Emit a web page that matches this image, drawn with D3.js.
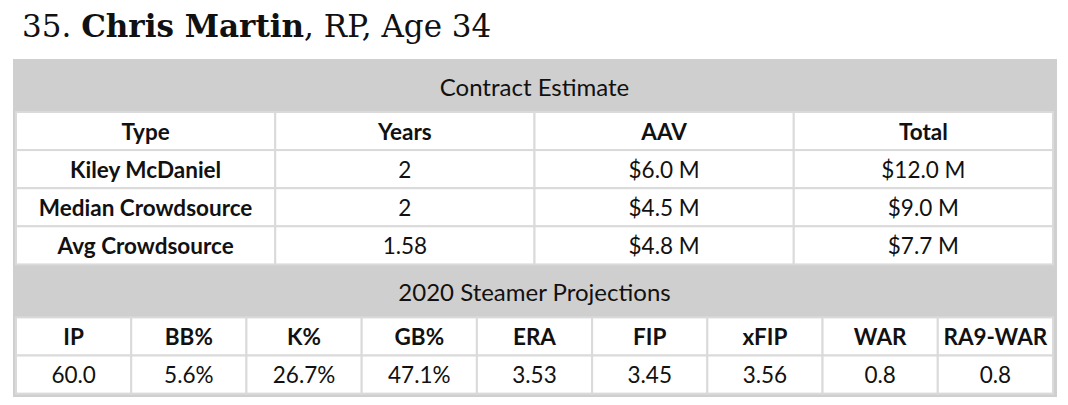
<!DOCTYPE html>
<html>
<head>
<meta charset="utf-8">
<script src="https://cdn.jsdelivr.net/npm/d3@7"></script>
<style>
  body { margin: 0; background: #fff; }
  svg text { font-family: Lato, "Open Sans", sans-serif; fill: #111; }
</style>
</head>
<body>
<div id="card"></div>
<script>
// table contents
const rank = 35;
const playerName = "Chris Martin";
const position = "RP";
const age = 34;

const contractTitle = "Contract Estimate";
const contractColumns = ["Type", "Years", "AAV", "Total"];
const contractTypes = ["Kiley McDaniel", "Median Crowdsource", "Avg Crowdsource"];
const contractYears = ["2", "2", "1.58"];
const contractAAV = [6.0, 4.5, 4.8];
const contractTotal = [12.0, 9.0, 7.7];

const steamerTitle = "2020 Steamer Projections";
const steamerStats = ["IP", "BB%", "K%", "GB%", "ERA", "FIP", "xFIP", "WAR", "RA9-WAR"];
const steamerValues = ["60.0", "5.6%", "26.7%", "47.1%", "3.53", "3.45", "3.56", "0.8", "0.8"];

const W = 1068, H = 405;
const box = {left: 13, right: 1057, top: 59, bottom: 397};
const inner = {left: 16, right: 1053};
const headH = 53;

const svg = d3.select("#card")
    .append("svg")
    .attr("width", W)
    .attr("height", H);

// title line
const title = svg.append("text")
    .attr("x", 22)
    .attr("y", 37)
    .style("font-family", "'DejaVu Serif', 'Liberation Serif', serif")
    .style("font-size", "29px")
    .style("fill", "#111");
title.append("tspan").text(`${rank}. `);
title.append("tspan").style("font-weight", "bold").text(playerName);
title.append("tspan").text(`, ${position}, Age ${age}`);

// size the title to the reference width (~470px), not past 31px
const tw = title.node().getComputedTextLength();
const fs = Math.min(31, 29 * 470 / tw);
title.style("font-size", fs + "px");
const tw2 = title.node().getComputedTextLength();
if (Math.abs(tw2 - 470) > 6) title.attr("textLength", 470).attr("lengthAdjust", "spacing");

// gray frame behind both tables
svg.append("rect")
    .attr("x", box.left)
    .attr("y", box.top)
    .attr("width", box.right - box.left)
    .attr("height", box.bottom - box.top)
    .attr("fill", "#cfcfcf");

const fmtM = d => `$${d3.format(".1f")(d)} M`;

const contractRows = [contractColumns].concat(contractTypes.map((t, i) => [
    t, contractYears[i], fmtM(contractAAV[i]), fmtM(contractTotal[i])
]));
const steamerRows = [steamerStats, steamerValues];

function drawSection(top, heading, rows, nCols, boldCol) {
    const x = d3.scaleBand()
        .domain(d3.range(nCols))
        .range([inner.left, inner.right]);

    svg.append("text")
        .attr("x", (inner.left + inner.right) / 2)
        .attr("y", top + headH / 2 + 1)
        .attr("text-anchor", "middle")
        .attr("dominant-baseline", "central")
        .style("font-size", "24px")
        .text(heading);

    const rowTop = top + headH;
    const y = d3.scaleBand()
        .domain(d3.range(rows.length))
        .range([rowTop, rowTop + rows.length * 38.1]);

    const g = svg.append("g");
    const row = g.selectAll("g")
        .data(rows)
        .join("g")
        .attr("transform", (d, i) => `translate(0,${y(i)})`);

    const cell = row.selectAll("g")
        .data((d, i) => d.map((v, j) => ({v, j, head: i === 0 || j === boldCol})))
        .join("g")
        .attr("transform", d => `translate(${x(d.j)},0)`);

    cell.append("rect")
        .attr("width", x.bandwidth())
        .attr("height", y.bandwidth())
        .attr("fill", "#fff")
        .attr("stroke", "#dadada")
        .attr("stroke-width", 2);

    cell.append("text")
        .attr("x", x.bandwidth() / 2)
        .attr("y", y.bandwidth() / 2)
        .attr("text-anchor", "middle")
        .attr("dominant-baseline", "central")
        .style("font-size", "22.5px")
        .style("font-weight", d => d.head ? "bold" : "normal")
        .text(d => d.v);

    return rowTop + rows.length * 38.1;
}

const end1 = drawSection(box.top, contractTitle, contractRows, contractColumns.length, 0);
drawSection(end1, steamerTitle, steamerRows, steamerStats.length, -1);
</script>
</body>
</html>
